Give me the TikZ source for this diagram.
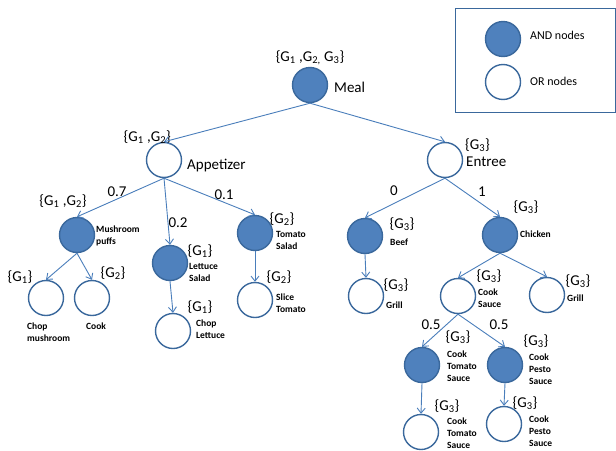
\documentclass[tikz,border=0pt]{standalone}
\usepackage{fontspec}
\setmainfont{Carlito}
\usetikzlibrary{arrows.meta}
\definecolor{fillb}{HTML}{4F81BD}
\definecolor{edgeb}{HTML}{3A689C}
\definecolor{arrb}{HTML}{4A7EBB}
\newcommand{\Gs}[1]{G\textsubscript{#1}}
\begin{document}
\begin{tikzpicture}[x=1pt,y=-1pt,
 andn/.style={circle,draw=edgeb,fill=fillb,line width=1.4pt,minimum size=35pt,inner sep=0pt},
 orn/.style={circle,draw=edgeb,fill=white,line width=1.4pt,minimum size=35pt,inner sep=0pt},
 glbl/.style={font=\fontsize{15}{15}\selectfont,inner sep=0pt},
 big/.style={font=\fontsize{15}{15}\selectfont,inner sep=0pt,anchor=west},
 leg/.style={font=\fontsize{12}{12}\selectfont,inner sep=0pt,anchor=west},
 small/.style={font=\fontsize{9.5}{12}\selectfont\bfseries,inner sep=0pt,anchor=west,align=left},
 arr/.style={draw=arrb,line width=0.9pt,-{Straight Barb[length=5pt,width=8pt]}},
]
\useasboundingbox (0,0) rectangle (616,450);

% legend
\node[draw=edgeb,line width=1pt,minimum width=160pt,minimum height=104pt,inner sep=0pt,anchor=north west] (legend) at (455,8) {};
\node[andn] (legand) at (503,39) {};
\node[leg] (legandt) at (530,35) {AND nodes};
\node[orn] (legor) at (503,82) {};
\node[leg] (legort) at (530,81) {OR nodes};

% root
\node[andn] (meal) at (310,85) {};
\node[big] (mealt) at (334,87) {Meal};
\node[glbl] (mealg) at (310,58) {\{\Gs{1} ,\Gs{2,} \Gs{3}\}};

\node[orn] (app) at (164,160) {};
\node[big] (appt) at (187,166) {Appetizer};
\node[glbl,anchor=east] (appg) at (171,137) {\{\Gs{1} ,\Gs{2}\}};

\node[orn] (ent) at (445,160) {};
\node[big] (entt) at (466,162) {Entree};
\node[glbl,anchor=west] (entg) at (465,145) {\{\Gs{3}\}};

% appetizer subtree
\node[andn] (mush) at (77,235) {};
\node[small] (musht) at (96,236) {Mushroom\\puffs};
\node[glbl] (mushg) at (63,201) {\{\Gs{1} ,\Gs{2}\}};

\node[andn] (lett) at (170,263) {};
\node[small] (lettt) at (189,272) {Lettuce\\Salad};
\node[glbl] (lettg) at (200,251) {\{\Gs{1}\}};

\node[andn] (toms) at (255,233) {};
\node[small] (tomst) at (276,240) {Tomato\\Salad};
\node[glbl] (tomsg) at (282,219) {\{\Gs{2}\}};

\node[orn] (chopm) at (46,298) {};
\node[small] (chopmt) at (27,332) {Chop\\mushroom};
\node[glbl] (chopmg) at (20,277) {\{\Gs{1}\}};

\node[orn] (cook) at (92,298) {};
\node[small] (cookt) at (86,326) {Cook};
\node[glbl] (cookg) at (113,273) {\{\Gs{2}\}};

\node[orn] (chopl) at (173,331) {};
\node[small] (choplt) at (196,329) {Chop\\Lettuce};
\node[glbl] (choplg) at (200,307) {\{\Gs{1}\}};

\node[orn] (slice) at (255,300) {};
\node[small] (slicet) at (276,303) {Slice\\Tomato};
\node[glbl] (sliceg) at (279,277) {\{\Gs{2}\}};

% entree subtree
\node[andn] (beef) at (365,236) {};
\node[small] (beeft) at (390,242) {Beef};
\node[glbl] (beefg) at (402,224) {\{\Gs{3}\}};

\node[andn] (chick) at (500,235) {};
\node[small] (chickt) at (520,234) {Chicken};
\node[glbl] (chickg) at (526,207) {\{\Gs{3}\}};

\node[orn] (grill1) at (366,296) {};
\node[small] (grill1t) at (386,305) {Grill};
\node[glbl] (grill1g) at (396,285) {\{\Gs{3}\}};

\node[orn] (sauce) at (458,296) {};
\node[small] (saucet) at (478,298) {Cook\\Sauce};
\node[glbl] (sauceg) at (489,276) {\{\Gs{3}\}};

\node[orn] (grill2) at (547,295) {};
\node[small] (grill2t) at (567,298) {Grill};
\node[glbl] (grill2g) at (578,281) {\{\Gs{3}\}};

\node[andn] (cts) at (422,365) {};
\node[small] (ctst) at (447,366) {Cook\\Tomato\\Sauce};
\node[glbl] (ctsg) at (458,337) {\{\Gs{3}\}};

\node[andn] (cps) at (505,365) {};
\node[small] (cpst) at (529,369) {Cook\\Pesto\\Sauce};
\node[glbl] (cpsg) at (536,341) {\{\Gs{3}\}};

\node[orn] (cts2) at (421,432) {};
\node[small] (cts2t) at (447,433) {Cook\\Tomato\\Sauce};
\node[glbl] (cts2g) at (447,406) {\{\Gs{3}\}};

\node[orn] (cps2) at (504,424) {};
\node[small] (cps2t) at (529,431) {Cook\\Pesto\\Sauce};
\node[glbl] (cps2g) at (525,403) {\{\Gs{3}\}};

% edge labels
\node[glbl] (l07) at (117,192) {0.7};
\node[glbl] (l02) at (178,223) {0.2};
\node[glbl] (l01) at (224,195) {0.1};
\node[glbl] (l0) at (394,191) {0};
\node[glbl] (l1) at (482,192) {1};
\node[glbl] (l05a) at (431,325) {0.5};
\node[glbl] (l05b) at (499,325) {0.5};

% edges
\draw[arr] (meal.south) -- (app.north);
\draw[arr] (meal.south) -- (ent.north);
\draw[arr] (app.south) -- (mush.north);
\draw[arr] (app.south) -- (lett.north);
\draw[arr] (app.south) -- (toms.north);
\draw[arr] (mush.south) -- (chopm.north);
\draw[arr] (mush.south) -- (cook.north);
\draw[arr] (lett.south) -- (chopl.north);
\draw[arr] (toms.south) -- (slice.north);
\draw[arr] (ent.south) -- (beef.north);
\draw[arr] (ent.south) -- (chick.north);
\draw[arr] (beef.south) -- (grill1.north);
\draw[arr] (chick.south) -- (sauce.north);
\draw[arr] (chick.south) -- (grill2.north);
\draw[arr] (sauce.south) -- (cts.north);
\draw[arr] (sauce.south) -- (cps.north);
\draw[arr] (cts.south) -- (cts2.north);
\draw[arr] (cps.south) -- (cps2.north);
\end{tikzpicture}
\end{document}
